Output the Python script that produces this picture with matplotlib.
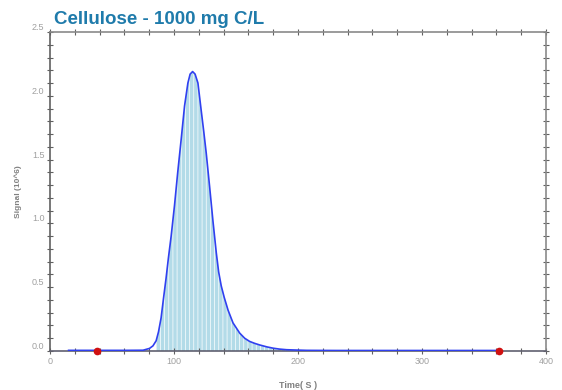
"""Cellulose TOC peak - signal vs time"""

import matplotlib
matplotlib.use("Agg")
import matplotlib.pyplot as plt
from matplotlib.ticker import MultipleLocator
import numpy as np

# Signal trace (time in s, signal in 10^6)
time_s = [15, 40, 60, 75, 80.2, 83, 85.6, 87.5, 89.6, 91.5, 93.6, 95.5, 97.7,
          100.4, 103, 105.8, 108.5, 111.2, 113, 115, 117, 119.3, 122, 124,
          126, 128.7, 131.4, 134.1, 136, 138.1, 140.5, 143.6, 147.6, 150.3,
          153, 157, 161, 165, 169.2, 175, 180, 185, 190.8, 200, 207, 230,
          280, 330, 362]
signal = [0.005, 0.005, 0.005, 0.006, 0.02, 0.04, 0.08, 0.15, 0.26, 0.41,
          0.57, 0.73, 0.90, 1.14, 1.40, 1.66, 1.92, 2.10, 2.17, 2.19, 2.17,
          2.10, 1.88, 1.72, 1.55, 1.29, 1.02, 0.77, 0.62, 0.51, 0.42, 0.32,
          0.22, 0.18, 0.14, 0.10, 0.075, 0.06, 0.047, 0.032, 0.022, 0.015,
          0.01, 0.007, 0.005, 0.004, 0.004, 0.004, 0.004]

# integration window markers
marker_t = [38, 362]
marker_v = [0.0, 0.0]

title = "Cellulose - 1000 mg C/L"
fill_start, fill_end = 84, 210


def main():
    plt.rcParams['hatch.linewidth'] = 0.5
    plt.rcParams['hatch.color'] = 'white'

    fig = plt.figure(figsize=(5.62, 3.90), dpi=100)
    ax = fig.add_axes([50 / 562, 1 - 351 / 390, 496 / 562, 319 / 390])

    t = np.array(time_s)
    s = np.array(signal)
    win = (t >= fill_start) & (t <= fill_end)

    # shaded integration area
    ax.fill_between(t[win], 0, s[win], facecolor='#b3dbe8', edgecolor='white',
                    hatch='||||', linewidth=0, zorder=1)

    ax.plot(t, s, color='#3040f0', lw=1.2, zorder=3)
    ax.plot(marker_t, marker_v, 'o', color='#d01010', ms=4.5, zorder=5,
            clip_on=False)

    ax.set_xlim(0, 400)
    ax.set_ylim(0, 2.5)
    ax.xaxis.set_major_locator(MultipleLocator(100))
    ax.xaxis.set_minor_locator(MultipleLocator(20))
    ax.yaxis.set_major_locator(MultipleLocator(0.5))
    ax.yaxis.set_minor_locator(MultipleLocator(0.1))
    ax.yaxis.set_major_formatter(matplotlib.ticker.FormatStrFormatter('%.1f'))

    for sp in ax.spines.values():
        sp.set_color('#8a8a8a')
        sp.set_linewidth(1.2)
    ax.spines['bottom'].set_color('#606070')
    ax.spines['left'].set_color('#606060')

    ax.tick_params(which='both', direction='inout', colors='#606060',
                   labelcolor='#a0a0a0', labelsize=6.5, top=True, right=True,
                   width=0.8)
    ax.tick_params(which='major', length=4, pad=2)
    ax.tick_params(which='minor', length=4)
    for lab in ax.get_yticklabels():
        lab.set_verticalalignment('bottom')
        lab.set_family('Liberation Sans')
    for lab in ax.get_xticklabels():
        lab.set_family('Liberation Sans')

    ax.set_ylabel('Signal (10^6)', fontsize=6, color='#808080',
                  fontweight='bold', family='Liberation Sans', labelpad=7)
    ax.set_xlabel('Time( S )', fontsize=6.5, color='#808080',
                  fontweight='bold', family='Liberation Sans', labelpad=11)

    fig.text(54 / 562, 1 - 24 / 390, title, fontsize=13.5,
             fontweight='bold', color='#1f7bab',
             family=['Liberation Sans Narrow', 'Liberation Sans'],
             ha='left', va='baseline')

    fig.savefig('out.png', dpi=100)


if __name__ == "__main__":
    main()
